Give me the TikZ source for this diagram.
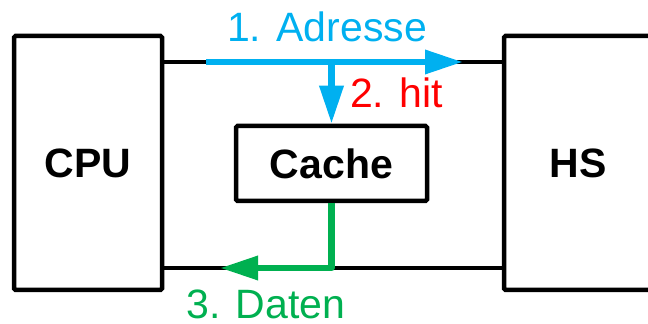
\documentclass[tikz,border=0pt]{standalone}
\usepackage{fontspec}
\setmainfont{Liberation Sans}
\usepackage{xcolor}
\usetikzlibrary{arrows.meta,positioning,calc}
\definecolor{ink}{HTML}{000000}
\definecolor{addr}{HTML}{00B0F0}
\definecolor{hitred}{HTML}{FF0000}
\definecolor{datagreen}{HTML}{00B050}
\newcommand{\bigfont}{\fontsize{41}{49}\selectfont}
\tikzset{
  unit/.style={draw=ink,line width=4.5pt,rounded corners=1.5pt,inner sep=0pt,align=center,font=\bigfont\bfseries,text=ink},
  bus/.style={draw=ink,line width=3.5pt},
  sig/.style={-{Triangle[length=38pt,width=23pt]},line width=6.5pt,draw=#1},
  siglabel/.style={inner sep=0pt,font=\bigfont,text=#1}
}

\begin{document}
\begin{tikzpicture}[x=1pt,y=1pt]
    \useasboundingbox (0,0) rectangle (648,324);
    \clip (0,0) rectangle (648,324);
    \node[unit,minimum width=148pt,minimum height=254pt] (cpu) at (88,161) {CPU};
    \node[unit,minimum width=148pt,minimum height=254pt] (hs) at (578,161) {HS};
    \node[unit,minimum width=191pt,minimum height=75pt] (cache) at (331.5,160.5) {Cache};

    % bus lines
    \coordinate (upper) at (0,262);
    \coordinate (lower) at (0,56);
    \draw[bus] (cpu.east |- upper) -- (hs.west |- upper);
    \draw[bus] (cpu.east |- lower) -- (hs.west |- lower);

    % 1. address, 2. hit, 3. data
    \coordinate (addrstart) at (206,262);
    \coordinate (addrend) at (463,262);
    \coordinate (dataend) at (220,56);
    \draw[sig=addr] (addrstart) -- (addrend);
    \draw[sig=addr] (cache.north |- upper) -- (cache.north);
    \draw[sig=datagreen,line join=round] (cache.south) |- (dataend);

    \node[siglabel=addr,anchor=base] (addrlabel) at (327,282) {1. Adresse};
    \node[siglabel=hitred,anchor=base west] (hitlabel) at (350,216) {2. hit};
    \node[siglabel=datagreen,anchor=base] (datalabel) at (266,5.5) {3. Daten};
  \end{tikzpicture}
\end{document}
